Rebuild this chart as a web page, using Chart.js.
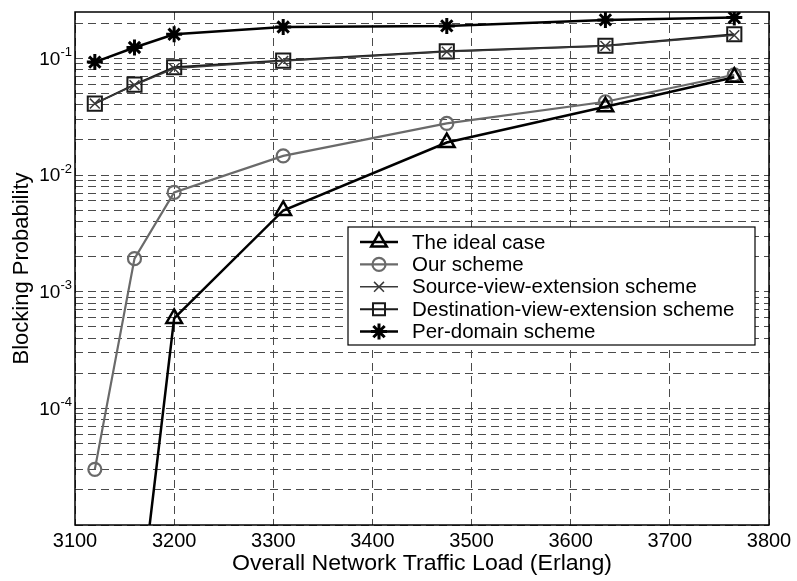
<!DOCTYPE html>
<html>
<head>
<meta charset="utf-8">
<title>Blocking Probability vs Traffic Load</title>
<script src="https://cdn.jsdelivr.net/npm/chart.js@4/dist/chart.umd.min.js"></script>
<style>
  html, body { margin: 0; padding: 0; background: #fff; }
  #wrap { width: 797px; height: 581px; }
</style>
</head>
<body>
<div id="wrap"><canvas id="chart" width="797" height="581"></canvas></div>
<script>
// data
const loads = [3120, 3160, 3200, 3310, 3475, 3635, 3765];
const idealCase = [null, 8e-7, 5.9e-4, 4.97e-3, 0.019, 0.0385, 0.069];
const ourScheme = [3.0e-5, 1.92e-3, 7.1e-3, 0.0146, 0.0277, 0.0425, 0.0724];
const sourceView = [0.041, 0.059, 0.082, 0.095, 0.114, 0.128, 0.158];
const destView = [0.041, 0.0596, 0.084, 0.0958, 0.115, 0.1285, 0.161];
const perDomain = [0.093, 0.124, 0.161, 0.186, 0.19, 0.214, 0.224];

const seriesNames = ['The ideal case', 'Our scheme', 'Source-view-extension scheme',
                     'Destination-view-extension scheme', 'Per-domain scheme'];
const yLabelExps = [-1, -2, -3, -4];
const yGridExps = [-5, -4, -3, -2, -1];
const yGridMults = [1, 2, 3, 4, 5, 6, 7, 8, 9];

const FONT = '"Liberation Sans", Arial, sans-serif';

function toPoints(vals) {
  return vals.map((v, i) => ({ x: loads[i], y: v }));
}

const styles = [
  { color: '#000000', width: 2.5, style: 'triangle', radius: 9, bw: 2.5 },
  { color: '#6a6a6a', width: 2.2, style: 'circle', radius: 6.5, bw: 2.2 },
  { color: '#3a3a3a', width: 1.5, style: 'crossRot', radius: 7, bw: 1.5 },
  { color: '#1a1a1a', width: 2, style: 'rect', radius: 10, bw: 2 },
  { color: '#000000', width: 2.5, style: 'star', radius: 8, bw: 3 }
];
const seriesData = [idealCase, ourScheme, sourceView, destView, perDomain];

const datasets = seriesData.map((vals, i) => ({
  label: seriesNames[i],
  data: toPoints(vals),
  borderColor: styles[i].color,
  borderWidth: styles[i].width,
  pointStyle: styles[i].style,
  pointRadius: styles[i].radius,
  pointBorderWidth: styles[i].bw,
  pointBorderColor: styles[i].color,
  pointBackgroundColor: 'rgba(0,0,0,0)',
  tension: 0,
  spanGaps: false
}));

const overlay = {
  id: 'overlay',
  afterDraw(chart) {
    const { ctx, chartArea: a, scales: { y } } = chart;
    ctx.save();
    // axes box
    ctx.strokeStyle = '#000';
    ctx.lineWidth = 1.5;
    ctx.setLineDash([]);
    ctx.strokeRect(a.left, a.top, a.right - a.left, a.bottom - a.top);

    // y tick labels 10^n
    ctx.fillStyle = '#000';
    yLabelExps.forEach(e => {
      const py = y.getPixelForValue(Math.pow(10, e));
      const sup = String(e);
      ctx.font = '13px ' + FONT;
      const sw = ctx.measureText(sup).width;
      ctx.textAlign = 'right';
      ctx.textBaseline = 'alphabetic';
      ctx.fillText(sup, a.left - 3, py - 2.5);
      ctx.font = '19px ' + FONT;
      ctx.textBaseline = 'middle';
      ctx.fillText('10', a.left - 3 - sw, py + 1);
    });

    // axis titles
    ctx.font = '22px ' + FONT;
    ctx.textAlign = 'center';
    ctx.textBaseline = 'middle';
    ctx.save();
    ctx.translate(422, 564);
    ctx.scale(1.05, 1);
    ctx.fillText('Overall Network Traffic Load (Erlang)', 0, 0);
    ctx.restore();
    ctx.save();
    ctx.translate(22, (a.top + a.bottom) / 2);
    ctx.rotate(-Math.PI / 2);
    ctx.fillText('Blocking Probability', 0, 0);
    ctx.restore();

    // legend
    const bx = 348, by = 227, bw = 407, bh = 118;
    ctx.fillStyle = '#fff';
    ctx.fillRect(bx, by, bw, bh);
    ctx.strokeStyle = '#000';
    ctx.lineWidth = 1.2;
    ctx.strokeRect(bx, by, bw, bh);
    chart.data.datasets.forEach((ds, i) => {
      const ly = 242 + i * 22.4;
      ctx.strokeStyle = ds.borderColor;
      ctx.lineWidth = ds.borderWidth;
      ctx.beginPath();
      ctx.moveTo(360, ly);
      ctx.lineTo(398, ly);
      ctx.stroke();
      ctx.fillStyle = 'rgba(0,0,0,0)';
      ctx.lineWidth = ds.pointBorderWidth;
      let r = ds.pointRadius;
      if (ds.pointStyle === 'rect') r = 8.5;
      Chart.helpers.drawPoint(ctx, {
        pointStyle: ds.pointStyle, rotation: 0, radius: r, borderWidth: ds.pointBorderWidth
      }, 379, ly);
      ctx.fillStyle = '#000';
      ctx.font = '20.5px ' + FONT;
      ctx.textAlign = 'left';
      ctx.textBaseline = 'middle';
      ctx.fillText(ds.label, 412, ly + 1);
    });
    ctx.restore();
  }
};

new Chart(document.getElementById('chart'), {
  type: 'line',
  data: { datasets: datasets },
  options: {
    responsive: false,
    animation: false,
    layout: { padding: { top: 7, right: 28, left: 0, bottom: 0 } },
    plugins: { legend: { display: false }, tooltip: { enabled: false } },
    scales: {
      x: {
        type: 'linear',
        min: 3100,
        max: 3800,
        ticks: {
          stepSize: 100,
          color: '#000',
          padding: 4,
          font: { family: FONT, size: 20 },
          maxRotation: 0,
          callback: v => String(v)
        },
        grid: { color: '#4a4a4a', lineWidth: 1, drawTicks: false },
        border: { display: false, dash: [8, 5] },
        afterFit(scale) { scale.height = 56; }
      },
      y: {
        type: 'logarithmic',
        min: 1e-5,
        max: 0.25,
        ticks: { display: false },
        afterBuildTicks(scale) {
          const t = [];
          yGridExps.forEach(e => yGridMults.forEach(m => {
            const v = m * Math.pow(10, e);
            if (v >= scale.min && v <= scale.max) t.push({ value: v });
          }));
          scale.ticks = t;
        },
        grid: { color: '#4a4a4a', lineWidth: 1, drawTicks: false },
        border: { display: false, dash: [8, 5] },
        afterFit(scale) { scale.width = 75; }
      }
    }
  },
  plugins: [overlay]
});
</script>
</body>
</html>
